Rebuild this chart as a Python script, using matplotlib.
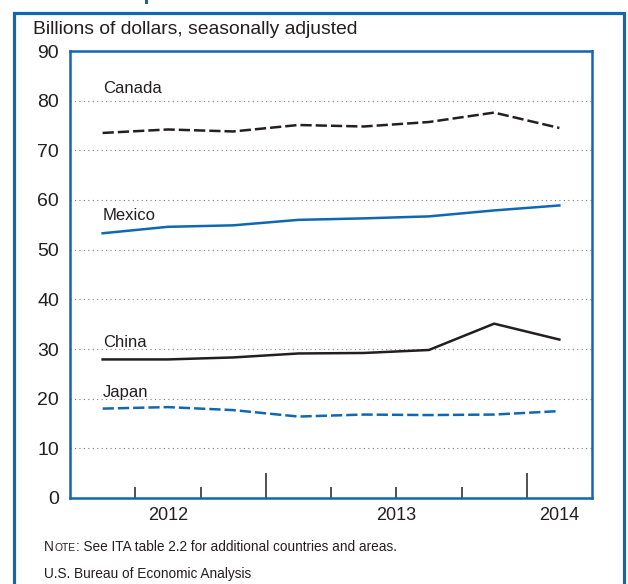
import matplotlib
matplotlib.use("Agg")
import matplotlib.pyplot as plt
from matplotlib.patches import Rectangle
from matplotlib.ticker import FixedLocator, NullFormatter

# ---- data ----
quarters = ["2012Q2", "2012Q3", "2012Q4", "2013Q1", "2013Q2", "2013Q3", "2013Q4", "2014Q1"]
canada = [73.5, 74.2, 73.8, 75.1, 74.8, 75.7, 77.6, 74.5]
mexico = [53.3, 54.6, 54.9, 56.0, 56.3, 56.7, 57.9, 58.9]
china = [27.9, 27.9, 28.3, 29.1, 29.2, 29.8, 35.1, 31.9]
japan = [18.0, 18.3, 17.7, 16.4, 16.8, 16.7, 16.8, 17.5]
yticks = [0, 10, 20, 30, 40, 50, 60, 70, 80, 90]
series_names = ["Canada", "Mexico", "China", "Japan"]
ylabel = "Billions of dollars, seasonally adjusted"
note_rest = ": See ITA table 2.2 for additional countries and areas."
source = "U.S. Bureau of Economic Analysis"

BLUE = "#0f68b2"
DARK = "#231f20"
W, H = 628, 584

plt.rcParams["font.family"] = ["Liberation Sans", "DejaVu Sans"]

fig = plt.figure(figsize=(W / 100, H / 100), dpi=100)

def px(x0, y0, x1, y1):
    return [x0 / W, 1 - y1 / H, (x1 - x0) / W, (y1 - y0) / H]

# outer blue frame
fig.patches.append(Rectangle((13.5 / W, -0.05), (624 - 13.5) / W, 1.05 - 12.5 / H,
                             transform=fig.transFigure, fill=False, ec=BLUE, lw=2.3))
# fragment of the cut title at the top
fig.patches.append(Rectangle((144.5 / W, 1 - 4 / H), 3 / W, 4 / H,
                             transform=fig.transFigure, fc=BLUE, ec="none"))

ax = fig.add_axes(px(70, 51, 592, 498))
n = len(quarters)
xs = [i + 0.5 for i in range(n)]

ax.plot(xs, canada, color=DARK, lw=1.8, dashes=(4.5, 1.6))
ax.plot(xs, mexico, color=BLUE, lw=1.8)
ax.plot(xs, china, color=DARK, lw=1.8)
ax.plot(xs, japan, color=BLUE, lw=1.8, dashes=(4.5, 1.6))

label_y = {"Canada": 82.4, "Mexico": 56.8, "China": 31.4, "Japan": 21.3}
for name in series_names:
    ax.text(xs[0], label_y[name], name, fontsize=12, color=DARK, ha="left", va="center")

ax.set_xlim(0, n)
ax.set_ylim(0, 90)

# gridlines
for v in yticks[1:-1]:
    ax.axhline(v, color="#7a7a7a", lw=0.8, ls=(0, (1, 3)), zorder=0)

for s in ax.spines.values():
    s.set_color(BLUE)
    s.set_linewidth(1.8)

ax.set_yticks(yticks)
ax.set_yticklabels([str(v) for v in yticks])
ax.tick_params(axis="y", length=0, pad=8, labelsize=14, labelcolor=DARK)

# quarter ticks: major at year boundaries, minor otherwise
years = [q[:4] for q in quarters]
boundaries = [i for i in range(1, n) if years[i] != years[i - 1]]
minor = [i for i in range(1, n) if i not in boundaries]
ax.xaxis.set_major_locator(FixedLocator(boundaries))
ax.xaxis.set_minor_locator(FixedLocator(minor))
ax.xaxis.set_major_formatter(NullFormatter())
ax.tick_params(axis="x", which="major", direction="in", length=18, width=1.1, color=DARK)
ax.tick_params(axis="x", which="minor", direction="in", length=8, width=1.1, color=DARK)

uniq = sorted(set(years))
for y in uniq:
    idx = [i for i, yy in enumerate(years) if yy == y]
    cx = (idx[0] + idx[-1] + 1) / 2
    ax.text(cx, -0.02, y, transform=ax.get_xaxis_transform(), ha="center", va="top",
            fontsize=13, color=DARK)

fig.text(33 / W, 1 - 30 / H, ylabel, fontsize=13.9, color=DARK, ha="left", va="center")

# note with small caps "NOTE"
renderer = fig.canvas.get_renderer()
x = 44
for s, fs in [("N", 9.8), ("OTE", 7.4), (note_rest, 9.8)]:
    t = fig.text(x / W, 1 - 551 / H, s, fontsize=fs, color=DARK, ha="left", va="baseline")
    bb = t.get_window_extent(renderer=renderer)
    x += bb.width + (0.3 if s != note_rest else 0)
fig.text(44 / W, 1 - 578 / H, source, fontsize=9.8, color=DARK, ha="left", va="baseline")

fig.savefig("out.png", dpi=100)
